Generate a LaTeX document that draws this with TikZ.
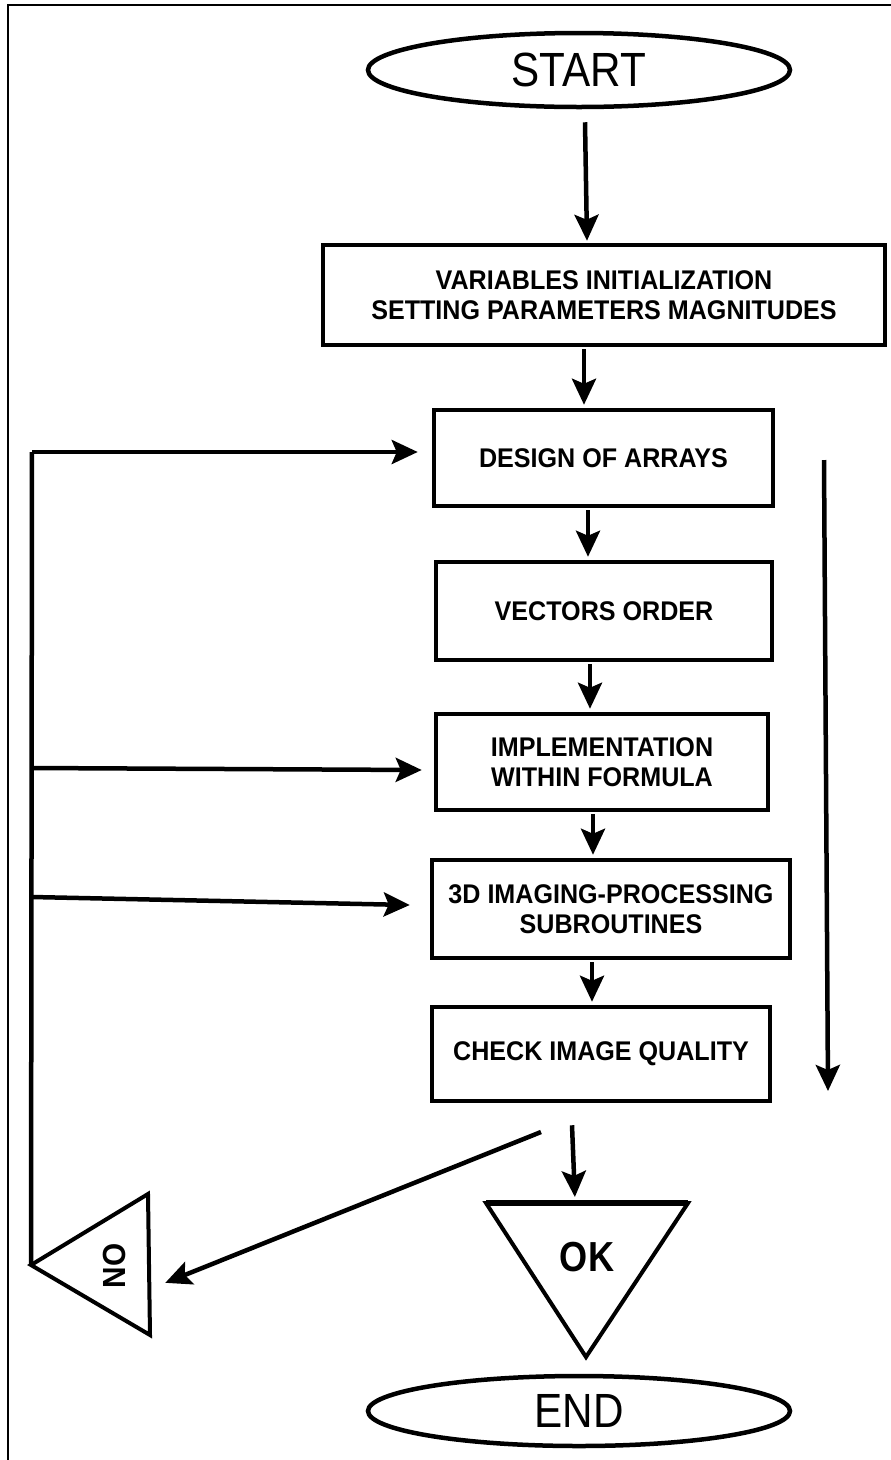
\documentclass[tikz,border=0pt]{standalone}
\usepackage{fontspec}
\setmainfont{Liberation Sans}
\newfontfamily\termfont[FakeStretch=0.88]{Liberation Sans}
\newfontfamily\boxfont[FakeStretch=0.93]{Liberation Sans}
\newfontfamily\okfont[FakeStretch=0.86]{Liberation Sans}
\usetikzlibrary{arrows.meta,calc,shapes.geometric}
\begin{document}
\begin{tikzpicture}[x=1pt,y=-1pt,
  box/.style 2 args={draw,line width=4.5pt,minimum width=#1,minimum height=#2,inner sep=0pt,align=center,
    font=\boxfont\bfseries\fontsize{27}{29.5}\selectfont},
  term/.style={draw,ellipse,line width=4.5pt,minimum width=422pt,minimum height=74pt,inner sep=0pt,
    font=\termfont\fontsize{48}{48}\selectfont},
  arr/.style={line width=4.5pt,-{Stealth[length=26pt,width=24pt,inset=5pt]}},
  tri/.style={line width=4pt,line join=miter}]
\useasboundingbox (0,0) rectangle (891,1460);
\fill[white] (0,0) rectangle (891,1460);
% frame (top and left edges)
\draw[line width=2.5pt] (8,1462) -- (8,5) -- (893,5);

% terminals
\node[term] (start) at (579,70) {START};
\node[term,minimum height=70pt] (end) at (579,1411) {END};

% process boxes
\node[box={562pt}{100pt}] (b1) at (604,295)
  {VARIABLES INITIALIZATION\\SETTING PARAMETERS MAGNITUDES};
\node[box={339pt}{96pt}] (b2) at (603.5,458) {DESIGN OF ARRAYS};
\node[box={336pt}{98pt}] (b3) at (604,611) {VECTORS ORDER};
\node[box={332pt}{96pt}] (b4) at (602,762) {IMPLEMENTATION\\WITHIN FORMULA};
\node[box={358pt}{98pt}] (b5) at (611,909) {3D IMAGING-PROCESSING\\SUBROUTINES};
\node[box={338pt}{94pt}] (b6) at (601,1054) {CHECK IMAGE QUALITY};

% decision triangles
\coordinate (noL) at (31,1265);
\coordinate (noT) at (148,1194);
\coordinate (noB) at (150,1335);
\draw[tri] (noL) -- (noT) -- (noB) -- cycle;
\node[rotate=90,font=\boxfont\bfseries\fontsize{32}{32}\selectfont] (notext) at (114,1266) {NO};

\coordinate (okL) at (486,1203);
\coordinate (okR) at (688,1203);
\coordinate (okB) at (586,1357);
\draw[tri] (okL) -- (okR) -- (okB) -- cycle;
\draw[line width=6pt] (okL) -- (okR);
\node[font=\okfont\bfseries\fontsize{42}{42}\selectfont] (oktext) at (587,1257) {OK};

% main flow arrows
\draw[arr] ($(start.south)+(6,13)$) -- ($(b1.north)+(-17,-2)$);
\draw[arr] ($(b1.south)+(-20,2)$) -- ($(b2.north)+(-19.5,-3)$);
\draw[arr] ($(b2.south)+(-15.5,2)$) -- ($(b3.north)+(-16,-3)$);
\draw[arr] ($(b3.south)+(-14,2)$) -- ($(b4.north)+(-12,-3)$);
\draw[arr] ($(b4.south)+(-9,2)$) -- ($(b5.north)+(-18,-3)$);
\draw[arr] ($(b5.south)+(-19,2)$) -- ($(b6.north)+(-9,-3)$);

% long right arrow
\coordinate (rtop) at (824,460);
\coordinate (rbot) at (828,1091);
\draw[arr] (rtop) -- (rbot);

% outcomes
\coordinate (dstart) at (541,1132);
\draw[arr] (dstart) -- ($(noB)!0.37!(noT)+(16,0)$);
\draw[arr] ($(b6.south)+(-29,22)$) -- ($(okL)!0.44!(okR)+(0,-6)$);

% feedback loop
\coordinate (loopTop) at (32,452);
\draw[line width=4.5pt] (noL) -- (loopTop);
\draw[arr] (loopTop) -- ($(b2.west)+(-14,-6)$);
\coordinate (f4) at (32,768);
\coordinate (f5) at (32,897);
\draw[arr] (f4) -- ($(b4.west)+(-12,8)$);
\draw[arr] (f5) -- ($(b5.west)+(-20,-4)$);
\end{tikzpicture}
\end{document}
